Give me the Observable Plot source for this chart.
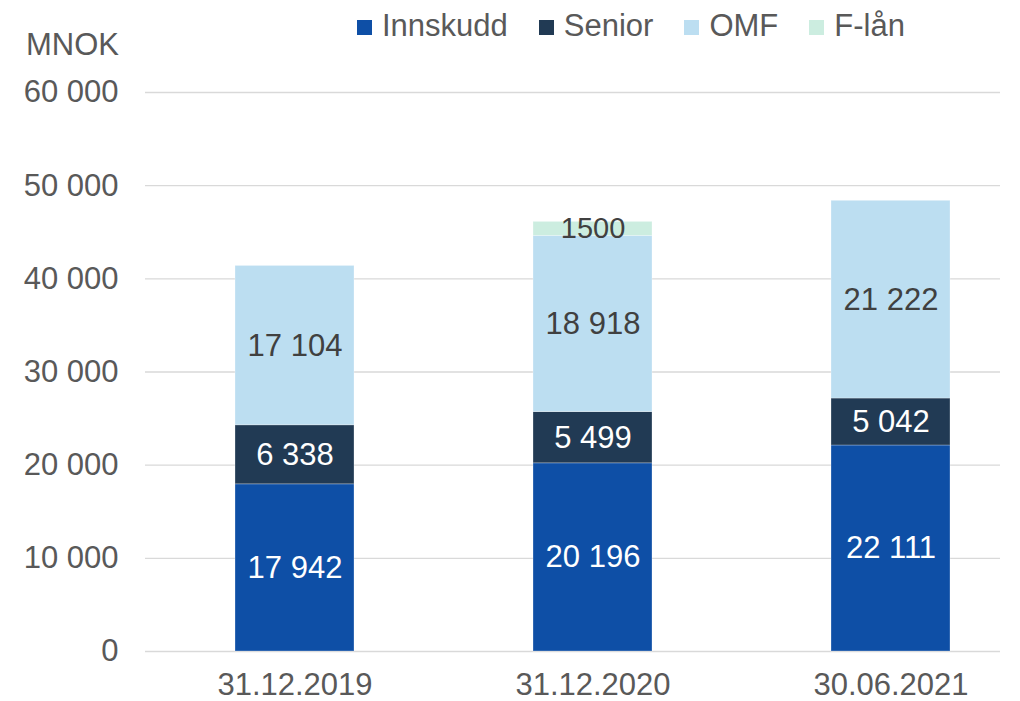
<!DOCTYPE html>
<html>
<head>
<meta charset="utf-8">
<script src="https://cdn.jsdelivr.net/npm/d3@7"></script>
<script src="https://cdn.jsdelivr.net/npm/@observablehq/plot@0.6"></script>
<style>
  html, body { margin: 0; padding: 0; background: #fff; }
  #wrap { position: relative; width: 1020px; height: 701px; font-family: "Liberation Sans", Arial, sans-serif; color: #595959; overflow: hidden; }
  #legend { position: absolute; left: 357px; top: 6px; display: flex; gap: 31px; font-size: 31px; align-items: center; height: 40px; }
  .item { display: flex; align-items: center; gap: 10px; }
  .sw { width: 15px; height: 15px; display: inline-block; position: relative; top: 1px; }
  #unit { position: absolute; right: 901px; top: 27px; font-size: 31px; line-height: 36px; }
  #chart { position: absolute; left: 0; top: 0; }
</style>
</head>
<body>
<div id="wrap">
  <div id="chart"></div>
  <div id="unit">MNOK</div>
  <div id="legend"></div>
</div>
<script>
const dates = ["31.12.2019", "31.12.2020", "30.06.2021"];
const series = ["Innskudd", "Senior", "OMF", "F-lån"];
const colors = ["#0E4FA6", "#213A54", "#BCDEF1", "#CCEDE0"];
const innskudd = [17942, 20196, 22111];
const senior = [6338, 5499, 5042];
const omf = [17104, 18918, 21222];
const flan = [0, 1500, 0];
const labels = {
  "Innskudd": ["17 942", "20 196", "22 111"],
  "Senior": ["6 338", "5 499", "5 042"],
  "OMF": ["17 104", "18 918", "21 222"],
  "F-lån": ["", "1500", ""]
};
const yTicks = [0, 10000, 20000, 30000, 40000, 50000, 60000];

const values = [innskudd, senior, omf, flan];
const data = [];
series.forEach((s, i) => {
  dates.forEach((d, j) => {
    data.push({date: d, series: s, value: values[i][j], label: labels[s][j]});
  });
});

const fmt = v => d3.format(",")(v).replace(/,/g, " ");
const light = new Set(["OMF", "F-lån"]);

const chart = Plot.plot({
  width: 1020,
  height: 701,
  marginLeft: 145,
  marginRight: 20,
  marginTop: 92,
  marginBottom: 50,
  style: {fontFamily: "Liberation Sans, Arial, sans-serif", background: "transparent", overflow: "visible"},
  x: {domain: dates, range: [145, 1040], paddingInner: 0.6, paddingOuter: 0.3, label: null},
  y: {domain: [0, 60000], label: null},
  color: {domain: series, range: colors},
  marks: [
    Plot.ruleY(yTicks, {stroke: "#D9D9D9", strokeWidth: 1.4}),
    Plot.barY(data, Plot.stackY({x: "date", y: "value", fill: "series", order: series,
      stroke: "white", strokeWidth: 0.8, strokeOpacity: 0.35})),
    Plot.text(data, Plot.stackY({
      x: "date", y: "value", z: "series", order: series,
      text: d => (d.value > 0 && !light.has(d.series)) ? d.label : null,
      fill: "white", fontSize: 31
    })),
    Plot.text(data, Plot.stackY({
      x: "date", y: "value", z: "series", order: series,
      text: d => (d.value > 0 && d.series === "OMF") ? d.label : null,
      fill: "#404040", fontSize: 31
    })),
    Plot.text(data, Plot.stackY({
      x: "date", y: "value", z: "series", order: series,
      text: d => (d.value > 0 && d.series === "F-lån") ? d.label : null,
      fill: "#404040", fontSize: 29
    })),
    Plot.axisY(yTicks, {tickSize: 0, tickPadding: 27, tickFormat: fmt, fontSize: 31, fill: "#595959", label: null}),
    Plot.axisX({tickSize: 0, tickPadding: 21, fontSize: 31, fill: "#595959", label: null})
  ]
});
document.getElementById("chart").appendChild(chart);

const legend = document.getElementById("legend");
series.forEach((s, i) => {
  const item = document.createElement("div");
  item.className = "item";
  const sw = document.createElement("span");
  sw.className = "sw";
  sw.style.background = colors[i];
  const t = document.createElement("span");
  t.textContent = s;
  item.appendChild(sw);
  item.appendChild(t);
  legend.appendChild(item);
});
</script>
</body>
</html>
